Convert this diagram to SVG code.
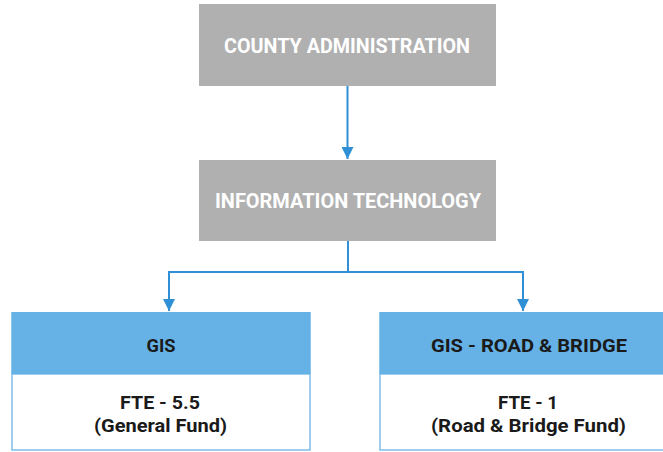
<svg xmlns="http://www.w3.org/2000/svg" width="663" height="452" viewBox="0 0 663 452">
<style>
.gray{fill:#b0b0b0}
.hdr{fill:#66b2e6}
.body{fill:#ffffff;stroke:#7fbde9;stroke-width:1.5}
.wt{font-family:Roboto,"Open Sans",sans-serif;font-weight:bold;font-size:20px;fill:#ffffff;text-anchor:middle}
.dt{font-family:Roboto,"Open Sans",sans-serif;font-weight:bold;font-size:19px;fill:#1a1a1a;text-anchor:middle}
.con{fill:none;stroke:#2f90d6;stroke-width:2}
</style>
<defs>
<marker id="ah" viewBox="0 0 10 10" refX="10" refY="5" markerWidth="6" markerHeight="6" orient="auto" markerUnits="strokeWidth">
<path d="M0,0 L10,5 L0,10 Z" fill="#2f90d6"/>
</marker>
</defs>
<rect width="663" height="452" fill="#ffffff"/>
<g id="connectors">
<path class="con" d="M347.5,86 V159" marker-end="url(#ah)"/>
<path class="con" d="M348,241 V272 H169 V311" marker-end="url(#ah)"/>
<path class="con" d="M348,272 H523 V311" marker-end="url(#ah)"/>
</g>
<g id="county-administration">
<rect class="gray" x="199" y="4" width="297" height="82"/>
<text class="wt" x="347" y="53" textLength="246" lengthAdjust="spacingAndGlyphs">COUNTY ADMINISTRATION</text>
</g>
<g id="information-technology">
<rect class="gray" x="199" y="160" width="297" height="81"/>
<text class="wt" x="348" y="208" textLength="266" lengthAdjust="spacingAndGlyphs">INFORMATION TECHNOLOGY</text>
</g>
<g id="gis">
<rect class="body" x="12" y="374" width="298" height="76"/>
<rect class="hdr" x="11.25" y="312" width="299.5" height="62"/>
<text class="dt" x="161" y="352" textLength="29" lengthAdjust="spacingAndGlyphs">GIS</text>
<text class="dt" x="160" y="409" textLength="80" lengthAdjust="spacingAndGlyphs">FTE - 5.5</text>
<text class="dt" x="160.5" y="432" textLength="133" lengthAdjust="spacingAndGlyphs">(General Fund)</text>
</g>
<g id="gis-road-bridge">
<rect class="body" x="380" y="374" width="298" height="76"/>
<rect class="hdr" x="379.25" y="312" width="299.5" height="62"/>
<text class="dt" x="529" y="352" textLength="196" lengthAdjust="spacingAndGlyphs">GIS - ROAD &amp; BRIDGE</text>
<text class="dt" x="528" y="409" textLength="60" lengthAdjust="spacingAndGlyphs">FTE - 1</text>
<text class="dt" x="528.5" y="432" textLength="195" lengthAdjust="spacingAndGlyphs">(Road &amp; Bridge Fund)</text>
</g>
</svg>
